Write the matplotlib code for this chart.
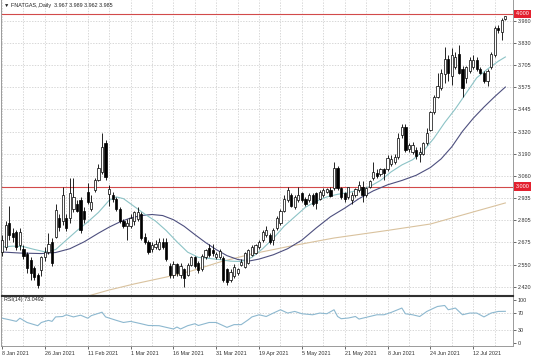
import matplotlib
matplotlib.use("Agg")
import matplotlib.pyplot as plt
import matplotlib.transforms as mtransforms
import numpy as np

# daily candles, 8 Jan 2021 .. 23 Jul 2021 (one entry per trading day)
opens = [
    2.62, 2.65, 2.79, 2.73, 2.735, 2.66, 2.64, 2.61, 2.575, 2.53,
    2.49, 2.515, 2.59, 2.62, 2.68, 2.71, 2.82, 2.80, 2.82, 2.82,
    2.87, 2.90, 2.92, 2.86, 2.97, 2.87, 2.98, 3.04, 3.085, 3.25,
    2.955, 2.95, 2.93, 2.87, 2.80, 2.77, 2.77, 2.80, 2.81, 2.84,
    2.71, 2.68, 2.64, 2.65, 2.64, 2.68, 2.68, 2.54, 2.49, 2.55,
    2.49, 2.52, 2.49, 2.546, 2.59, 2.56, 2.52, 2.59, 2.645, 2.63,
    2.59, 2.59, 2.585, 2.52, 2.46, 2.48, 2.50, 2.545, 2.535, 2.56,
    2.605, 2.615, 2.65, 2.69, 2.72, 2.72, 2.69, 2.76, 2.79, 2.86,
    2.92, 2.95, 2.88, 2.92, 2.96, 2.93, 2.92, 2.95, 2.96, 2.93,
    2.95, 2.97, 2.98, 2.99, 3.11, 2.99, 2.96, 2.94, 2.92, 2.95,
    2.98, 3.00, 2.95, 3.00, 3.05, 3.08, 3.07, 3.10, 3.10, 3.13,
    3.14, 3.17, 3.30, 3.345, 3.22, 3.20, 3.21, 3.19, 3.19, 3.25,
    3.33, 3.43, 3.52, 3.57, 3.65, 3.74, 3.64, 3.69, 3.77, 3.68,
    3.63, 3.67, 3.69, 3.73, 3.68, 3.66, 3.61, 3.69, 3.76, 3.915,
    3.895, 3.967,
]
highs = [
    2.72, 2.80, 2.89, 2.76, 2.75, 2.76, 2.66, 2.62, 2.59, 2.54,
    2.50, 2.60, 2.65, 2.73, 2.70, 2.90, 2.84, 3.00, 2.84, 3.05,
    3.05, 2.92, 2.94, 2.88, 3.02, 2.95, 3.05, 3.13, 3.31, 3.27,
    3.01, 2.97, 2.94, 2.88, 2.81, 2.81, 2.84, 2.86, 2.88, 2.85,
    2.73, 2.69, 2.68, 2.69, 2.70, 2.70, 2.70, 2.56, 2.57, 2.56,
    2.56, 2.53, 2.56, 2.60, 2.60, 2.57, 2.61, 2.64, 2.67, 2.67,
    2.62, 2.64, 2.60, 2.53, 2.52, 2.55, 2.53, 2.58, 2.62, 2.64,
    2.66, 2.67, 2.69, 2.75, 2.77, 2.73, 2.76, 2.83, 2.87, 2.95,
    3.00, 2.96, 2.95, 3.00, 2.97, 2.94, 2.96, 2.96, 2.97, 2.98,
    2.99, 2.99, 3.00, 3.14, 3.12, 3.00, 2.97, 3.00, 2.97, 2.99,
    3.03, 3.03, 3.00, 3.04, 3.14, 3.10, 3.11, 3.11, 3.18, 3.18,
    3.19, 3.31, 3.36, 3.36, 3.25, 3.26, 3.23, 3.23, 3.26, 3.34,
    3.44, 3.53, 3.66, 3.68, 3.81, 3.76, 3.80, 3.78, 3.82, 3.70,
    3.70, 3.75, 3.76, 3.75, 3.69, 3.67, 3.68, 3.78, 3.93, 3.935,
    3.975, 3.989,
]
lows = [
    2.60, 2.63, 2.69, 2.68, 2.63, 2.63, 2.58, 2.50, 2.46, 2.46,
    2.413, 2.48, 2.57, 2.61, 2.54, 2.70, 2.74, 2.78, 2.74, 2.79,
    2.85, 2.85, 2.73, 2.79, 2.90, 2.86, 2.97, 3.03, 3.07, 3.04,
    2.89, 2.91, 2.86, 2.79, 2.76, 2.69, 2.76, 2.78, 2.80, 2.69,
    2.67, 2.61, 2.62, 2.64, 2.63, 2.64, 2.57, 2.47, 2.47, 2.48,
    2.47, 2.42, 2.48, 2.54, 2.53, 2.50, 2.51, 2.58, 2.59, 2.60,
    2.58, 2.58, 2.45, 2.43, 2.45, 2.47, 2.49, 2.54, 2.53, 2.55,
    2.60, 2.61, 2.64, 2.68, 2.71, 2.67, 2.66, 2.75, 2.78, 2.85,
    2.91, 2.88, 2.87, 2.91, 2.91, 2.89, 2.91, 2.89, 2.87, 2.92,
    2.94, 2.96, 2.94, 2.98, 2.98, 2.93, 2.91, 2.93, 2.90, 2.94,
    2.97, 2.91, 2.94, 2.99, 3.04, 3.05, 3.06, 3.04, 3.09, 3.12,
    3.13, 3.16, 3.28, 3.20, 3.20, 3.19, 3.16, 3.14, 3.18, 3.24,
    3.32, 3.42, 3.51, 3.56, 3.60, 3.61, 3.59, 3.68, 3.65, 3.52,
    3.60, 3.66, 3.68, 3.67, 3.65, 3.60, 3.58, 3.68, 3.75, 3.89,
    3.85, 3.962,
]
closes = [
    2.69, 2.78, 2.72, 2.705, 2.65, 2.735, 2.60, 2.53, 2.50, 2.478,
    2.43, 2.59, 2.62, 2.67, 2.56, 2.865, 2.765, 2.95, 2.76, 2.96,
    2.94, 2.86, 2.75, 2.81, 2.91, 2.91, 3.04, 3.11, 3.23, 3.055,
    2.985, 2.93, 2.87, 2.80, 2.77, 2.79, 2.82, 2.85, 2.85, 2.70,
    2.68, 2.62, 2.66, 2.67, 2.68, 2.65, 2.58, 2.49, 2.55, 2.50,
    2.54, 2.47, 2.545, 2.59, 2.54, 2.517, 2.60, 2.63, 2.605, 2.615,
    2.61, 2.625, 2.46, 2.45, 2.505, 2.535, 2.52, 2.565, 2.615, 2.635,
    2.65, 2.66, 2.68, 2.737, 2.748, 2.68, 2.748, 2.82, 2.86, 2.93,
    2.98, 2.89, 2.94, 2.95, 2.92, 2.90, 2.95, 2.90, 2.905, 2.97,
    2.98, 2.985, 2.945, 3.11, 2.99, 2.94, 2.93, 2.995, 2.95, 2.985,
    3.01, 2.95, 2.99, 3.03, 3.085, 3.06, 3.10, 3.08, 3.165, 3.16,
    3.17, 3.28, 3.345, 3.21, 3.24, 3.24, 3.175, 3.20, 3.25, 3.31,
    3.43, 3.52, 3.58, 3.66, 3.74, 3.66, 3.76, 3.75, 3.66, 3.57,
    3.69, 3.73, 3.73, 3.68, 3.66, 3.61, 3.67, 3.77, 3.915, 3.905,
    3.965, 3.985,
]

# moving averages (bar index, price)
ma_fast_bars = [0, 3, 6, 9, 12, 15, 18, 21, 24, 27, 30, 32, 34, 37, 40, 43, 46, 49, 52,
                55, 58, 61, 64, 67, 70, 73, 76, 79, 82, 85, 88, 91, 94, 97, 100, 103,
                106, 109, 112, 115, 118, 121, 124, 127, 130, 133, 136, 139, 141]
ma_fast = [2.650, 2.655, 2.652, 2.636, 2.622, 2.635, 2.690, 2.745, 2.795, 2.850, 2.920,
           2.940, 2.930, 2.885, 2.840, 2.800, 2.745, 2.680, 2.620, 2.590, 2.584, 2.577,
           2.568, 2.566, 2.590, 2.640, 2.700, 2.770, 2.825, 2.880, 2.915, 2.940, 2.955,
           2.965, 2.980, 3.000, 3.035, 3.085, 3.125, 3.155, 3.205, 3.280, 3.370, 3.450,
           3.540, 3.630, 3.680, 3.725, 3.750]
ma_mid_bars = [0, 5, 11, 15, 19, 23, 27, 30, 33, 36, 39, 42, 45, 48, 51, 54, 57, 60, 63,
               66, 69, 72, 76, 80, 84, 88, 92, 96, 100, 104, 108, 112, 116, 120, 123,
               126, 129, 132, 135, 138, 141]
ma_mid = [2.621, 2.615, 2.612, 2.618, 2.640, 2.680, 2.730, 2.765, 2.795, 2.818, 2.832,
          2.838, 2.832, 2.808, 2.770, 2.722, 2.676, 2.635, 2.600, 2.578, 2.568, 2.580,
          2.605, 2.640, 2.690, 2.760, 2.825, 2.875, 2.930, 2.975, 3.010, 3.035, 3.065,
          3.110, 3.160, 3.230, 3.320, 3.395, 3.460, 3.520, 3.576]
ma_slow_bars = [24, 30, 37, 46, 53, 61, 70, 81, 93, 107, 120, 131, 141]
ma_slow = [2.366, 2.401, 2.436, 2.476, 2.511, 2.563, 2.610, 2.656, 2.702, 2.743, 2.783,
           2.847, 2.905]

rsi_bars = [0, 2, 4, 5, 7, 10, 11, 13, 14, 15, 17, 18, 20, 22, 24, 25, 28, 29, 32, 34,
            36, 39, 41, 44, 46, 48, 49, 50, 52, 54, 55, 58, 60, 63, 65, 67, 69, 70, 72,
            74, 76, 78, 80, 82, 84, 87, 89, 91, 93, 94, 95, 97, 99, 100, 103, 105, 107,
            109, 112, 113, 115, 117, 119, 121, 122, 124, 125, 127, 129, 131, 133, 135,
            137, 139, 141]
rsi = [57, 53.5, 49.6, 57, 47, 39.5, 47, 52, 49.6, 60, 61, 65, 60, 64, 57, 63, 71, 60, 52,
       47, 49.6, 44, 40, 39.5, 35.6, 31.8, 36.4, 31.8, 39.5, 44, 40, 47, 47, 35.6, 42, 42,
       53.5, 60, 65, 61, 69, 76.7, 69, 72.8, 67.4, 65, 69, 67.4, 76.7, 61, 55.8, 57.4, 61,
       55, 61, 65, 65, 70.5, 80.7, 67.4, 65, 61, 72.8, 80.7, 84.4, 86.7, 76.7, 80.7, 65,
       69, 69, 60, 69, 72.8, 73.0492]

price_ticks = ["2.420", "2.550", "2.675", "2.805", "2.935", "3.060", "3.190", "3.320",
               "3.445", "3.575", "3.705", "3.830", "3.960"]
date_labels = ["8 Jan 2021", "26 Jan 2021", "11 Feb 2021", "1 Mar 2021", "16 Mar 2021",
               "31 Mar 2021", "19 Apr 2021", "5 May 2021", "21 May 2021", "8 Jun 2021",
               "24 Jun 2021", "12 Jul 2021"]
levels = [4.000, 3.000]

FONT = ["Liberation Sans", "DejaVu Sans"]
FS = 3.9
GRID = "#c8c8c8"
W, H = 536, 357

plt.rcParams["font.family"] = FONT


def px_axes(fig, x0, y0, x1, y1):
    return fig.add_axes([x0 / W, (H - y1) / H, (x1 - x0) / W, (y1 - y0) / H])


fig = plt.figure(figsize=(W / 100, H / 100), dpi=100)
fig.patch.set_facecolor("white")

ax = px_axes(fig, 1, 0, 512.5, 295)
ax_rsi = px_axes(fig, 1, 295.5, 512.5, 346)

n = len(closes)
x = np.arange(n)
o = np.array(opens)
c = np.array(closes)
xlim = (-0.3, 143.0)

# ---- price panel ----
ax.set_xlim(*xlim)
ax.set_ylim(2.3721, 4.0798)
tick_vals = np.linspace(2.420, 3.960, len(price_ticks))
ax.yaxis.tick_right()
ax.set_yticks(tick_vals)
ax.set_yticklabels(price_ticks)
ax.tick_params(axis="y", length=2, width=0.5, pad=1.5, labelsize=FS,
               colors="#303030")
ax.set_xticks([])
for v in tick_vals:
    ax.axhline(v, color=GRID, lw=0.5, ls=(0, (2, 2)), zorder=0)
for xg in range(0, 143, 6):
    ax.axvline(xg, color=GRID, lw=0.5, ls=(0, (2, 2)), zorder=0)

for lv in levels:
    ax.axhline(lv, color="#d24a4a", lw=0.8, zorder=1)
    trans = mtransforms.blended_transform_factory(ax.transAxes, ax.transData)
    ax.text(1.006, lv, f"{lv:.3f}", transform=trans, ha="left", va="center",
            fontsize=FS, color="white", clip_on=False,
            bbox=dict(boxstyle="square,pad=0.3", fc="#e3202e", ec="none"))

ax.plot(ma_slow_bars, ma_slow, color="#d9c29e", lw=0.8, zorder=2)
ax.plot(ma_mid_bars, ma_mid, color="#4d4f7e", lw=0.8, zorder=2)
ax.plot(ma_fast_bars, ma_fast, color="#8cc3c6", lw=0.8, zorder=2)

ax.vlines(x, lows, highs, color="black", lw=0.6, zorder=3)
body_lo = np.minimum(o, c)
body_h = np.maximum(np.abs(c - o), 0.004)
fill = ["white" if cc >= oo else "black" for oo, cc in zip(o, c)]
ax.bar(x, body_h, bottom=body_lo, width=0.62, color=fill, edgecolor="black",
       linewidth=0.5, zorder=4)

ax.text(3 / 511.5, 1 - 5.5 / 295, "\u25bc FNATGAS,,Daily  3.967 3.989 3.962 3.985",
        transform=ax.transAxes, ha="left", va="center", fontsize=FS, color="#202020")

for side in ("left", "right"):
    ax.spines[side].set_color("#9a9a9a")
    ax.spines[side].set_linewidth(0.7)
ax.spines["top"].set_visible(False)
ax.spines["bottom"].set_color("#303030")
ax.spines["bottom"].set_linewidth(0.8)

# ---- RSI panel ----
ax_rsi.set_xlim(*xlim)
ax_rsi.set_ylim(-7.9, 110)
ax_rsi.yaxis.tick_right()
ax_rsi.set_yticks([100, 70, 30, 0])
ax_rsi.set_yticklabels(["100", "70", "30", "0"])
ax_rsi.tick_params(axis="y", length=2, width=0.5, pad=1.5, labelsize=FS,
                   colors="#303030")
for v in (70, 30):
    ax_rsi.axhline(v, color=GRID, lw=0.5, ls=(0, (2, 2)), zorder=0)
for xg in range(0, 143, 6):
    ax_rsi.axvline(xg, color=GRID, lw=0.5, ls=(0, (2, 2)), zorder=0)
ax_rsi.plot(rsi_bars, rsi, color="#8db8cf", lw=0.8, zorder=2)
ax_rsi.text(3 / 511.5, 1 - 4.5 / 50.5, "RSI(14) 73.0492", transform=ax_rsi.transAxes,
            ha="left", va="center", fontsize=FS, color="#202020")

ax_rsi.set_xticks(np.arange(0, 12 * len(date_labels), 12))
ax_rsi.set_xticklabels(date_labels)
ax_rsi.tick_params(axis="x", length=2, width=0.5, pad=1.8, labelsize=FS,
                   colors="#303030")
for lbl in ax_rsi.get_xticklabels():
    lbl.set_ha("left")

for side in ("left", "right", "bottom"):
    ax_rsi.spines[side].set_color("#9a9a9a")
    ax_rsi.spines[side].set_linewidth(0.7)
ax_rsi.spines["top"].set_color("#303030")
ax_rsi.spines["top"].set_linewidth(0.8)

fig.savefig("out.png", dpi=100, facecolor="white")
